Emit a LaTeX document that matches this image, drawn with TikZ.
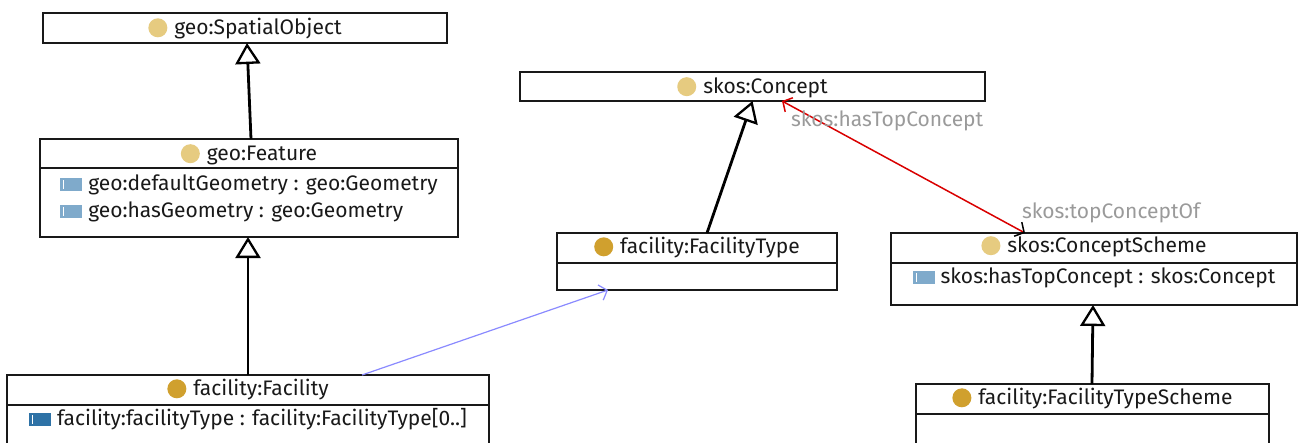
\documentclass[tikz,border=0pt]{standalone}
\usepackage{fontspec}
\setmainfont{Fira Sans}
\usetikzlibrary{arrows.meta,calc}
\definecolor{dotlight}{HTML}{E6CB80}
\definecolor{dotdark}{HTML}{D0A02E}
\definecolor{attrlight}{HTML}{7FAACB}
\definecolor{attrdark}{HTML}{2E72A6}
\definecolor{lblgray}{HTML}{9A9A9A}
\definecolor{assoc}{HTML}{8A8AFF}
\newcommand\clsdot[1]{\tikz[baseline=-0.6ex]\fill[#1] (0pt,0pt) circle[radius=9.5pt];\hspace{7pt}}
\newcommand\attricon[1]{\tikz[baseline=-0.6ex]{\fill[#1] (0pt,-6.5pt) rectangle (22pt,6.5pt);\draw[white,line width=1pt] (3.5pt,-4.5pt) -- (3.5pt,4.5pt);}\hspace{6pt}}
\begin{document}
\begin{tikzpicture}[x=1pt,y=-1pt,
  every node/.style={font=\fontsize{21}{24}\selectfont, inner sep=0pt, outer sep=0pt},
  box/.style={draw=black!90, line width=1.4pt, fill=white, rectangle},
  txt/.style={text=black!90},
  gen/.style={line width=2.8pt, -{Triangle[open,length=21pt,width=25pt,line width=2.3pt]}},
  lbl/.style={text=lblgray, anchor=west}
]
\useasboundingbox (0,0) rectangle (1299,442);
% geo:SpatialObject
\node[box, minimum width=404pt, minimum height=30pt] (so) at (245,28) {};
\node[txt] (sot) at (245,28.5) {\clsdot{dotlight}geo:SpatialObject};
% geo:Feature
\node[box, minimum width=418pt, minimum height=29pt] (fe) at (249,153.5) {};
\node[box, minimum width=418pt, minimum height=69pt] (feb) at (249,202.5) {};
\node[txt] (fet) at (249,154.5) {\clsdot{dotlight}geo:Feature};
\node[txt, align=left] (fea) at (249,198.5) {\attricon{attrlight}geo:defaultGeometry : geo:Geometry\\[3pt]\attricon{attrlight}geo:hasGeometry : geo:Geometry};
% facility:Facility
\node[box, minimum width=482pt, minimum height=30pt] (fa) at (248,390) {};
\node[box, minimum width=482pt, minimum height=50pt] (fab) at (248,430) {};
\node[txt] (fat) at (248,389.5) {\clsdot{dotdark}facility:Facility};
\node[txt] (faa) at (248,419.5) {\attricon{attrdark}facility:facilityType : facility:FacilityType[0..]};
% skos:Concept
\node[box, minimum width=465pt, minimum height=29pt] (co) at (752.5,86.5) {};
\node[txt] (cot) at (752.5,87.5) {\clsdot{dotlight}skos:Concept};
% facility:FacilityType
\node[box, minimum width=280pt, minimum height=30pt] (ft) at (697,248) {};
\node[box, minimum width=280pt, minimum height=27pt] (ftb) at (697,276.5) {};
\node[txt] (ftt) at (697,247.5) {\clsdot{dotdark}facility:FacilityType};
% skos:ConceptScheme
\node[box, minimum width=406pt, minimum height=30pt] (cs) at (1094,248) {};
\node[box, minimum width=406pt, minimum height=42pt] (csb) at (1094,284) {};
\node[txt] (cst) at (1094,246.5) {\clsdot{dotlight}skos:ConceptScheme};
\node[txt] (csa) at (1094,278) {\attricon{attrlight}skos:hasTopConcept : skos:Concept};
% facility:FacilityTypeScheme
\node[box, minimum width=353pt, minimum height=30pt] (fts) at (1092.5,399) {};
\node[box, minimum width=353pt, minimum height=40pt] (ftsb) at (1092.5,434) {};
\node[txt] (ftst) at (1092.5,398.5) {\clsdot{dotdark}facility:FacilityTypeScheme};
% generalizations
\draw[gen] ([xshift=2pt]fe.north) -- ([xshift=2pt]so.south);
\draw[gen] (fa.north) -- ([xshift=-1pt]feb.south);
\draw[gen] ([xshift=10pt]ft.north) -- (co.south);
\draw[gen] ([xshift=-0.5pt]fts.north) -- ([xshift=-1pt]csb.south);
% association facilityType
\draw[assoc, line width=1.2pt, -{Straight Barb[length=7pt,width=16pt,line width=1.2pt]}] ([xshift=114pt]fa.north) -- ([xshift=-89pt]ftb.south);
% inverse skos:hasTopConcept / skos:topConceptOf
\draw[red!85!black, line width=1.5pt, {Straight Barb[length=7pt,width=16pt,line width=1.5pt]}-{Straight Barb[length=7pt,width=16pt,line width=1.5pt,color=black]}] ([xshift=29.5pt]co.south) -- ([xshift=-69pt]cs.north);
\node[lbl] (l1) at (791,120.5) {skos:hasTopConcept};
\node[lbl] (l2) at (1022,212.5) {skos:topConceptOf};
\end{tikzpicture}
\end{document}
